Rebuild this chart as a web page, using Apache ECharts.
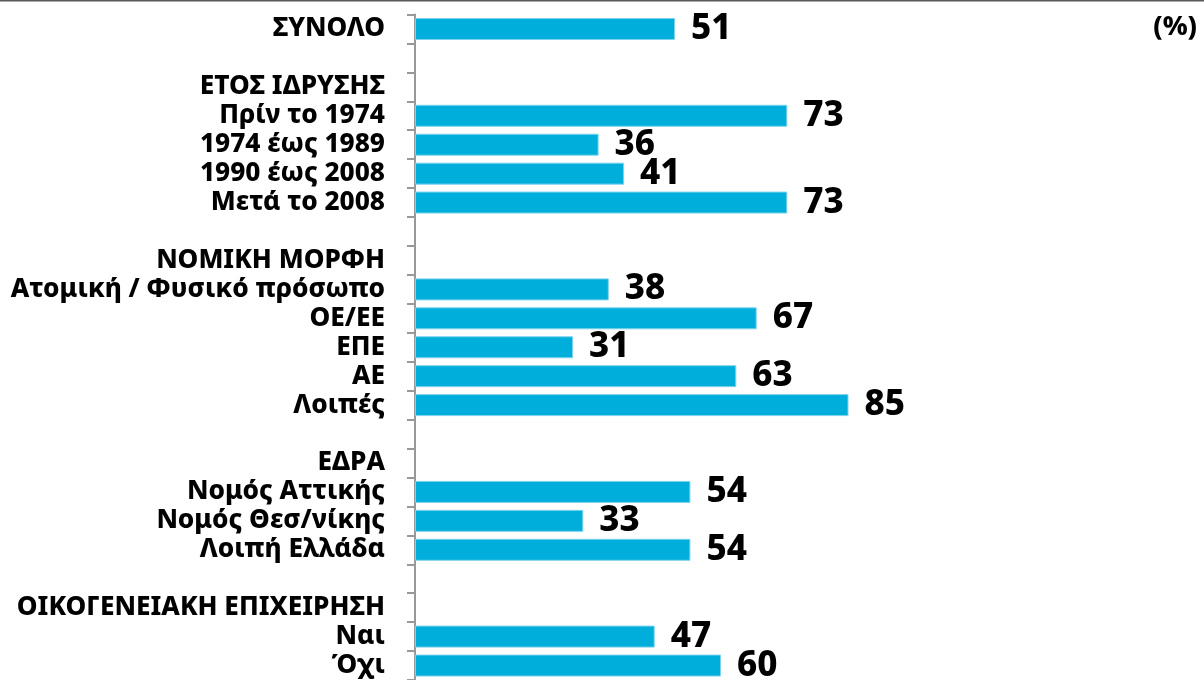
<!DOCTYPE html>
<html>
<head>
<meta charset="utf-8">
<style>
  html, body { margin: 0; padding: 0; background: #fff; }
  #chart { width: 1204px; height: 680px; }
</style>
<script src="https://cdn.jsdelivr.net/npm/echarts@6/dist/echarts.min.js"></script>
</head>
<body>
<div id="chart"></div>
<script>
// Row labels, top to bottom; blank rows separate the groups
const categories = [
  'ΣΥΝΟΛΟ',
  ' ',
  'ΕΤΟΣ ΙΔΡΥΣΗΣ',
  'Πρίν το 1974',
  '1974 έως 1989',
  '1990 έως 2008',
  'Μετά το 2008',
  '  ',
  'ΝΟΜΙΚΗ ΜΟΡΦΗ',
  'Ατομική / Φυσικό πρόσωπο',
  'ΟΕ/ΕΕ',
  'ΕΠΕ',
  'ΑΕ',
  'Λοιπές',
  '   ',
  'ΕΔΡΑ',
  'Νομός Αττικής',
  'Νομός Θεσ/νίκης',
  'Λοιπή Ελλάδα',
  '    ',
  'ΟΙΚΟΓΕΝΕΙΑΚΗ ΕΠΙΧΕΙΡΗΣΗ',
  'Ναι',
  'Όχι'
];

// Percentages per row ('-' = heading or spacer row, no bar)
const values = [
  51,
  '-',
  '-', 73, 36, 41, 73,
  '-',
  '-', 38, 67, 31, 63, 85,
  '-',
  '-', 54, 33, 54,
  '-',
  '-', 47, 60
];

const unitLabel = '(%)';

const FONT = '"Noto Sans", "Open Sans", sans-serif';

const chart = echarts.init(document.getElementById('chart'), null, { renderer: 'canvas' });

chart.setOption({
  animation: false,
  backgroundColor: '#ffffff',
  grid: {
    left: 415,
    right: 279,
    top: 14.5,
    height: 667,
    containLabel: false
  },
  xAxis: {
    type: 'value',
    min: 0,
    max: 100,
    show: false
  },
  yAxis: {
    type: 'category',
    inverse: true,
    data: categories,
    axisLine: { show: true, lineStyle: { color: '#999999', width: 2 } },
    axisTick: { show: true, length: 8, lineStyle: { color: '#999999', width: 2 } },
    axisLabel: {
      margin: 30,
      color: '#000000',
      fontFamily: FONT,
      fontWeight: 800,
      fontSize: 26.2,
      interval: 0
    },
    splitLine: { show: false }
  },
  series: [{
    type: 'bar',
    data: values,
    barWidth: 22,
    itemStyle: {
      color: '#00AEDC',
      borderColor: '#7fd3ec',
      borderWidth: 1
    },
    label: {
      show: true,
      position: 'right',
      distance: 16,
      color: '#000000',
      fontFamily: FONT,
      fontWeight: 800,
      fontSize: 35
    }
  }],
  graphic: [
    {
      type: 'line',
      shape: { x1: 0, y1: 0.5, x2: 1204, y2: 0.5 },
      style: { stroke: '#595959', lineWidth: 2 }
    },
    {
      type: 'text',
      right: 7,
      top: 14,
      style: {
        text: unitLabel,
        fill: '#000000',
        font: '800 27px ' + FONT
      }
    }
  ]
});
</script>
</body>
</html>
